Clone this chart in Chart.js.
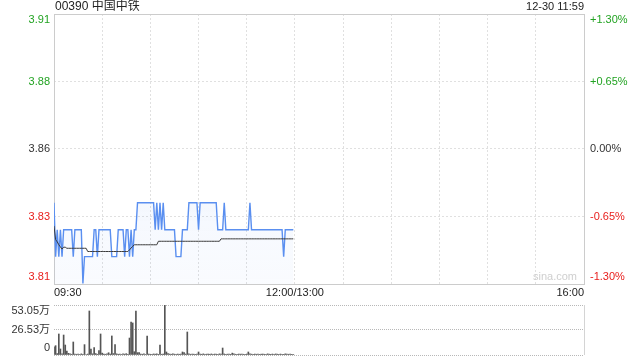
<!DOCTYPE html>
<html lang="zh-CN">
<head>
<meta charset="utf-8">
<title>00390 中国中铁 分时图</title>
<script src="https://cdn.jsdelivr.net/npm/chart.js@4.4.1/dist/chart.umd.min.js"></script>
<style>
    html, body { margin: 0; padding: 0; background: #fff; }
    #wrap { position: relative; width: 640px; height: 360px; overflow: hidden; }
    #precio { position: absolute; left: 0; top: 0; }
    #volumen { position: absolute; left: 0; top: 300px; }
</style>
</head>
<body>
<div id="wrap">
    <canvas id="precio" width="640" height="300"></canvas>
    <canvas id="volumen" width="640" height="60"></canvas>
</div>
<script>
// Datos del gráfico (minuto 0 = 09:30, minuto 150 = 12:00/13:00, minuto 330 = 16:00)
const titulo = '00390 中国中铁';
const fechaHora = '12-30 11:59';
const cierreAnterior = 3.86;
const minutoFinal = 330;

const marcasPct = [1.30, 0.65, 0, -0.65, -1.30];
const etiquetasPrecio = ['3.91', '3.88', '3.86', '3.83', '3.81'];
const etiquetasPct = ['+1.30%', '+0.65%', '0.00%', '-0.65%', '-1.30%'];

const lineasTiempo = [0, 30, 60, 90, 120, 150, 180, 210, 240, 270, 300, 330];
const posicionesHora = [0, 150, 330];
const etiquetasHora = ['09:30', '12:00/13:00', '16:00'];

const marcasVolumen = [53.05, 26.53, 0];
const etiquetasVolumen = ['53.05万', '26.53万', '0'];

// Precio por minuto 09:30 - 11:59
const precios = [
    3.84, 3.82, 3.83, 3.82, 3.83, 3.82, 3.83, 3.83, 3.83, 3.83,
    3.83, 3.83, 3.82, 3.83, 3.83, 3.83, 3.83, 3.83, 3.81, 3.82,
    3.82, 3.82, 3.82, 3.82, 3.82, 3.83, 3.83, 3.82, 3.83, 3.83,
    3.83, 3.83, 3.83, 3.83, 3.83, 3.83, 3.82, 3.82, 3.82, 3.82,
    3.83, 3.83, 3.83, 3.83, 3.82, 3.83, 3.83, 3.82, 3.83, 3.82,
    3.83, 3.83, 3.84, 3.84, 3.84, 3.84, 3.84, 3.84, 3.84, 3.84,
    3.84, 3.84, 3.84, 3.83, 3.84, 3.83, 3.84, 3.83, 3.84, 3.83,
    3.83, 3.83, 3.83, 3.83, 3.83, 3.83, 3.82, 3.82, 3.82, 3.82,
    3.83, 3.83, 3.83, 3.83, 3.84, 3.84, 3.84, 3.84, 3.84, 3.84,
    3.83, 3.84, 3.84, 3.84, 3.84, 3.84, 3.84, 3.84, 3.84, 3.84,
    3.84, 3.84, 3.83, 3.83, 3.83, 3.83, 3.84, 3.83, 3.83, 3.83,
    3.83, 3.83, 3.83, 3.83, 3.83, 3.83, 3.83, 3.83, 3.83, 3.83,
    3.83, 3.83, 3.84, 3.83, 3.83, 3.83, 3.83, 3.83, 3.83, 3.83,
    3.83, 3.83, 3.83, 3.83, 3.83, 3.83, 3.83, 3.83, 3.83, 3.83,
    3.83, 3.83, 3.83, 3.82, 3.83, 3.83, 3.83, 3.83, 3.83, 3.83
];

// Precio medio por minuto
const promedio = [
    3.8314, 3.8263, 3.8255, 3.8244, 3.8236, 3.8228, 3.8235, 3.8235, 3.8231, 3.8231,
    3.8231, 3.8231, 3.8231, 3.8231, 3.8231, 3.8231, 3.8231, 3.8231, 3.8231, 3.8231,
    3.8231, 3.8219, 3.8219, 3.8219, 3.8219, 3.8219, 3.8219, 3.8219, 3.8219, 3.8219,
    3.8219, 3.8219, 3.8219, 3.8219, 3.8219, 3.8219, 3.8219, 3.8219, 3.8219, 3.8219,
    3.8219, 3.8219, 3.8219, 3.8219, 3.8219, 3.8219, 3.8219, 3.8225, 3.8232, 3.8238,
    3.8244, 3.8244, 3.8244, 3.8244, 3.8244, 3.8244, 3.8244, 3.8244, 3.8244, 3.8244,
    3.8244, 3.8244, 3.8244, 3.8244, 3.8244, 3.8257, 3.8257, 3.8257, 3.8257, 3.8257,
    3.8257, 3.8257, 3.8257, 3.8257, 3.8257, 3.8257, 3.8257, 3.8257, 3.8257, 3.8257,
    3.8257, 3.8257, 3.8257, 3.8257, 3.8257, 3.8257, 3.8257, 3.8257, 3.8257, 3.8257,
    3.8257, 3.8257, 3.8257, 3.8257, 3.8257, 3.8257, 3.8257, 3.8257, 3.8257, 3.8257,
    3.8257, 3.8257, 3.8257, 3.8257, 3.8266, 3.8266, 3.8266, 3.8266, 3.8266, 3.8266,
    3.8266, 3.8266, 3.8266, 3.8266, 3.8266, 3.8266, 3.8266, 3.8266, 3.8266, 3.8266,
    3.8266, 3.8266, 3.8266, 3.8266, 3.8266, 3.8266, 3.8266, 3.8266, 3.8266, 3.8266,
    3.8266, 3.8266, 3.8266, 3.8266, 3.8266, 3.8266, 3.8266, 3.8266, 3.8266, 3.8266,
    3.8266, 3.8266, 3.8266, 3.8266, 3.8266, 3.8266, 3.8266, 3.8266, 3.8266, 3.8266
];

// Volumen por minuto (万股)
const volumen = [
    8.8, 9.9, 1.5, 22.3, 6.4, 1.2, 21.2, 10.6, 4.2, 1.8,
    1.2, 0.8, 13.8, 1.0, 0.8, 1.0, 0.6, 1.2, 0.8, 11.0,
    0.5, 1.0, 46.7, 6.4, 1.2, 7.8, 1.5, 0.8, 4.6, 22.3,
    2.0, 1.0, 0.8, 1.2, 2.4, 1.0, 20.2, 1.5, 11.0, 1.2,
    0.8, 1.0, 0.6, 1.2, 0.9, 1.4, 0.8, 18.0, 35.0, 34.0,
    3.5, 46.7, 2.5, 2.5, 1.0, 0.8, 1.2, 0.6, 20.2, 1.0,
    0.8, 0.6, 1.1, 0.9, 1.2, 0.7, 10.6, 0.8, 1.0, 53.05,
    3.2, 1.4, 1.0, 0.8, 1.2, 0.9, 0.6, 1.0, 0.8, 1.1,
    3.2, 2.5, 1.0, 24.4, 1.2, 0.8, 1.0, 0.9, 0.7, 1.1,
    3.2, 1.0, 0.8, 1.2, 0.6, 0.9, 1.0, 0.8, 1.1, 0.7,
    1.0, 0.9, 0.6, 1.2, 1.0, 7.4, 1.1, 0.8, 0.9, 1.0,
    0.7, 2.0, 1.2, 0.8, 0.6, 1.0, 0.9, 1.1, 0.8, 0.7,
    1.0, 3.2, 1.2, 0.9, 0.6, 1.0, 0.8, 1.1, 0.7, 0.9,
    1.0, 0.8, 0.6, 1.2, 0.9, 0.7, 1.0, 0.8, 1.1, 0.9,
    0.6, 1.0, 0.8, 0.7, 1.2, 0.9, 0.8, 1.0, 0.7, 0.6
];

const FUENTE = '"Liberation Sans", Arial, "Noto Sans CJK SC", sans-serif';
const VERDE = '#22a322';
const ROJO = '#e8201e';
const OSCURO = '#333333';

const marcasPrecio = marcasPct.map(p => cierreAnterior * (1 + p / 100));

function colorPorSigno(p) {
    if (p > 0) return VERDE;
    if (p < 0) return ROJO;
    return OSCURO;
}

// Desplaza las etiquetas extremas hacia dentro del área
function ajusteVertical(i, total) {
    if (i === 0) return 6;
    if (i === total - 1) return -7;
    return 0;
}

// Plugin: marco, textos y marca de agua del gráfico de precio
const marcoPrecio = {
    id: 'marcoPrecio',
    beforeDatasetsDraw(chart) {
        const { ctx, chartArea: a } = chart;
        ctx.save();
        // Marco sólido (debajo de las líneas)
        ctx.strokeStyle = '#cccccc';
        ctx.lineWidth = 1;
        ctx.strokeRect(a.left + 0.5, a.top + 0.5, a.right - a.left, a.bottom - a.top);

        ctx.font = '11px ' + FUENTE;
        ctx.fillStyle = '#cfcfcf';
        ctx.textAlign = 'right';
        ctx.textBaseline = 'middle';
        ctx.fillText('sina.com', a.right - 7, a.bottom - 7);
        ctx.restore();
    },
    afterDraw(chart) {
        const { ctx, chartArea: a, scales } = chart;
        ctx.save();

        // Título y hora
        ctx.fillStyle = '#222';
        ctx.textBaseline = 'middle';
        ctx.font = '12px ' + FUENTE;
        ctx.textAlign = 'left';
        ctx.fillText(titulo, a.left + 1, 7);
        ctx.font = '11px ' + FUENTE;
        ctx.textAlign = 'right';
        ctx.fillText(fechaHora, a.right, 7);

        // Etiquetas de precio y porcentaje
        ctx.font = '11px ' + FUENTE;
        marcasPrecio.forEach((v, i) => {
            const y = scales.y.getPixelForValue(v) + ajusteVertical(i, marcasPrecio.length);
            ctx.fillStyle = colorPorSigno(marcasPct[i]);
            ctx.textAlign = 'right';
            ctx.fillText(etiquetasPrecio[i], a.left - 4, y);
            ctx.textAlign = 'left';
            ctx.fillText(etiquetasPct[i], a.right + 6, y);
        });

        // Etiquetas de hora
        ctx.fillStyle = '#222';
        posicionesHora.forEach((m, i) => {
            const x = scales.x.getPixelForValue(m);
            if (i === 0) ctx.textAlign = 'left';
            else if (i === posicionesHora.length - 1) ctx.textAlign = 'right';
            else ctx.textAlign = 'center';
            ctx.fillText(etiquetasHora[i], x, a.bottom + 9);
        });

        ctx.restore();
    }
};

// Plugin: bordes y etiquetas del gráfico de volumen
const marcoVolumen = {
    id: 'marcoVolumen',
    afterDraw(chart) {
        const { ctx, chartArea: a, scales } = chart;
        ctx.save();
        ctx.strokeStyle = '#d4d4d4';
        ctx.lineWidth = 1;
        ctx.beginPath();
        ctx.moveTo(a.right + 0.5, a.top);
        ctx.lineTo(a.right + 0.5, a.bottom);
        ctx.stroke();

        ctx.font = '11px ' + FUENTE;
        ctx.fillStyle = OSCURO;
        ctx.textAlign = 'right';
        ctx.textBaseline = 'middle';
        marcasVolumen.forEach((v, i) => {
            const y = scales.y.getPixelForValue(v) + ajusteVertical(i, marcasVolumen.length);
            ctx.fillText(etiquetasVolumen[i], a.left - 4, y);
        });
        ctx.restore();
    }
};

function escalaX(conRejilla) {
    return {
        type: 'linear',
        min: 0,
        max: minutoFinal,
        offset: false,
        afterBuildTicks: s => { s.ticks = lineasTiempo.map(v => ({ value: v })); },
        afterFit: s => { s.height = 0; },
        ticks: { display: false },
        grid: { display: conRejilla, offset: false, color: '#e0e0e0', drawTicks: false },
        border: { display: false, dash: [2, 2] }
    };
}

function rellenoAzul(context) {
    const { ctx, chartArea } = context.chart;
    if (!chartArea) return 'rgba(90, 143, 240, 0.08)';
    const g = ctx.createLinearGradient(0, chartArea.top, 0, chartArea.bottom);
    g.addColorStop(0, 'rgba(90, 143, 240, 0.14)');
    g.addColorStop(1, 'rgba(90, 143, 240, 0.03)');
    return g;
}

const graficoPrecio = new Chart(document.getElementById('precio'), {
    type: 'line',
    data: {
        datasets: [
            {
                label: '均价',
                data: promedio.map((v, i) => ({ x: i, y: v })),
                borderColor: '#3a3a3a',
                borderWidth: 1,
                pointRadius: 0,
                fill: false,
                tension: 0
            },
            {
                label: '价格',
                data: precios.map((v, i) => ({ x: i, y: v })),
                borderColor: '#5a8ff0',
                borderWidth: 1.4,
                pointRadius: 0,
                fill: 'start',
                backgroundColor: rellenoAzul,
                tension: 0
            }
        ]
    },
    options: {
        responsive: false,
        animation: false,
        events: [],
        layout: { padding: { top: 14, bottom: 16, left: 0, right: 56 } },
        plugins: { legend: { display: false }, tooltip: { enabled: false } },
        scales: {
            x: escalaX(true),
            y: {
                min: marcasPrecio[marcasPrecio.length - 1],
                max: marcasPrecio[0],
                afterBuildTicks: s => { s.ticks = marcasPrecio.map(v => ({ value: v })); },
                afterFit: s => { s.width = 54; },
                ticks: { display: false },
                grid: { color: '#e0e0e0', drawTicks: false },
                border: { display: false, dash: [2, 2] }
            }
        }
    },
    plugins: [marcoPrecio]
});

const graficoVolumen = new Chart(document.getElementById('volumen'), {
    type: 'bar',
    data: {
        datasets: [
            {
                label: '成交量',
                data: volumen.map((v, i) => ({ x: i, y: v })),
                backgroundColor: '#555555',
                borderWidth: 0,
                barThickness: 1
            }
        ]
    },
    options: {
        responsive: false,
        animation: false,
        events: [],
        layout: { padding: { top: 5, bottom: 5, left: 0, right: 56 } },
        plugins: { legend: { display: false }, tooltip: { enabled: false } },
        scales: {
            x: escalaX(false),
            y: {
                min: 0,
                max: marcasVolumen[0],
                afterBuildTicks: s => { s.ticks = marcasVolumen.map(v => ({ value: v })); },
                afterFit: s => { s.width = 54; },
                ticks: { display: false },
                grid: { color: '#b8b8b8', drawTicks: false },
                border: { display: false, dash: [1, 1] }
            }
        }
    },
    plugins: [marcoVolumen]
});
</script>
</body>
</html>
